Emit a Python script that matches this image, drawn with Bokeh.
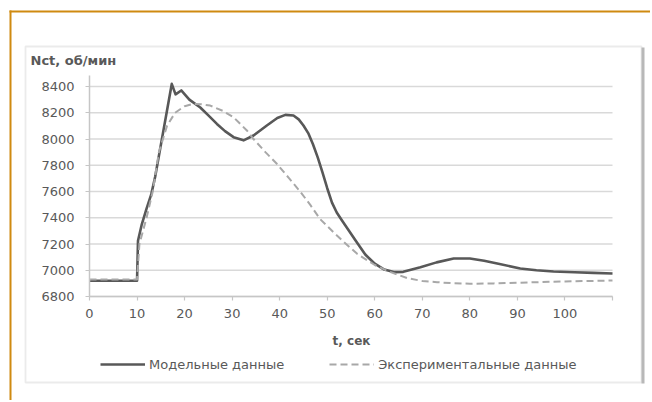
from bokeh.plotting import figure
from bokeh.models import (Range1d, FixedTicker, BoxAnnotation, Label, Legend, LegendItem)
from bokeh.embed import file_html
from bokeh.resources import INLINE

# ---- data ----
t_model = [0, 10, 10.2, 11, 12, 13, 13.8, 17.3, 18.1, 19.3, 21, 23.3, 25, 26.8, 28.5, 30.3, 32.4,
           34.5, 37.3, 39.5, 41.2, 42.9, 44, 45, 46, 47, 48, 49, 50, 51, 52, 53, 54.5, 56, 58, 60,
           62, 64, 66, 69.6, 73, 76.6, 80, 83, 86, 90.6, 94, 97.6, 102, 106, 110]
n_model = [6920, 6920, 7225, 7350, 7470, 7580, 7710, 8420, 8340, 8370, 8300, 8240, 8180, 8115, 8060,
           8014, 7990, 8027, 8103, 8160, 8184, 8179, 8150, 8103, 8045, 7960, 7860, 7745, 7625, 7515,
           7440, 7385, 7305, 7225, 7120, 7050, 7005, 6986, 6988, 7023, 7060, 7089, 7090, 7072, 7050,
           7013, 7000, 6990, 6985, 6980, 6975]

t_exp = [0, 10, 10.5, 12, 13.3, 14.6, 16.3, 18, 20, 21.8, 23.5, 25.4, 28, 30.3, 33.1, 34.5, 37, 39.4,
         42, 44.3, 46.4, 48.5, 51.3, 53.5, 56.3, 60, 63, 66.8, 70, 73.1, 76, 80, 85, 90.6, 95, 100,
         105, 110]
n_exp = [6930, 6930, 7200, 7400, 7600, 7900, 8100, 8200, 8250, 8268, 8265, 8255, 8215, 8166, 8065,
         8000, 7900, 7811, 7700, 7600, 7500, 7390, 7290, 7215, 7125, 7040, 6990, 6940, 6918, 6909,
         6902, 6897, 6900, 6905, 6910, 6915, 6918, 6922]

x_ticks = [0, 10, 20, 30, 40, 50, 60, 70, 80, 90, 100, 110]
x_tick_labels = {110: ""}
y_ticks = [6800, 7000, 7200, 7400, 7600, 7800, 8000, 8200, 8400]

y_title = "Nct, об/мин"
x_title = "t, сек"
legend_labels = ["Модельные данные", "Экспериментальные данные"]

X_MIN, X_MAX, Y_MIN, Y_MAX = 0, 110, 6800, 8484

# ---- page-pixel helpers (page px -> data coordinates) ----
O = 0                                       # observed page offset of the figure
FL, FR, FT, FB = 89, 612, 75, 296          # data area on the page
def dx(px):
    return X_MIN + (px - FL) * (X_MAX - X_MIN) / (FR - FL)
def dy(py):
    return Y_MIN + (FB - py) * (Y_MAX - Y_MIN) / (FB - FT)

W, H = 650, 400
p = figure(width=W, height=H, output_backend="svg", toolbar_location=None,
           x_range=Range1d(dx(O), dx(O + W)), y_range=Range1d(dy(O + H), dy(O)),
           min_border=0)
p.outline_line_color = None
p.background_fill_color = "white"
p.border_fill_color = "white"
p.grid.visible = False

FONT = "DejaVu Sans"
TXT = "#595959"

# orange frame and chart box
p.add_layout(BoxAnnotation(left=dx(25), right=dx(641), top=dy(46), bottom=dy(382),
                           fill_color="white", fill_alpha=1, line_color="#bdbdbd", line_width=1.8,
                           level="underlay"))
p.add_layout(BoxAnnotation(left=dx(641), right=dx(644), top=dy(47), bottom=dy(383),
                           fill_color="#b8b8b8", fill_alpha=1, line_alpha=0, level="underlay"))
p.add_layout(BoxAnnotation(left=dx(9), right=dx(670), top=dy(10), bottom=dy(12),
                           fill_color="#cf8a10", fill_alpha=1, line_alpha=0, level="underlay"))
p.add_layout(BoxAnnotation(left=dx(9), right=dx(11), top=dy(10), bottom=dy(420),
                           fill_color="#cf8a10", fill_alpha=1, line_alpha=0, level="underlay"))

# horizontal grid lines across the axis extent
p.segment(x0=[X_MIN] * len(y_ticks), x1=[X_MAX] * len(y_ticks), y0=y_ticks, y1=y_ticks,
          line_color="#d9d9d9", line_width=1.5)

for ax in (p.xaxis, p.yaxis):
    ax.axis_line_color = "#c6c6c6"
    ax.axis_line_width = 1.5
    ax.major_tick_line_color = "#c6c6c6"
    ax.major_tick_line_width = 1.2
    ax.minor_tick_line_color = None
    ax.major_tick_in = 0
    ax.major_tick_out = 4
    ax.major_label_text_font = FONT
    ax.major_label_text_font_size = "13px"
    ax.major_label_text_color = TXT

p.xaxis.fixed_location = Y_MIN
p.xaxis.bounds = (X_MIN, X_MAX)
p.xaxis.ticker = FixedTicker(ticks=x_ticks)
p.xaxis.major_label_overrides = x_tick_labels
p.xaxis.major_label_standoff = 8
p.yaxis.fixed_location = X_MIN
p.yaxis.bounds = (Y_MIN, Y_MAX)
p.yaxis.ticker = FixedTicker(ticks=y_ticks)
p.yaxis.major_label_standoff = 11

r1 = p.line(t_model, n_model, line_color="#585858", line_width=2.6, line_join="round")
r2 = p.line(t_exp, n_exp, line_color="#a8a8a8", line_width=2.0, line_dash="7 4",
            line_join="round")

p.add_layout(Label(x=dx(30), y=dy(60), text=y_title, text_font=FONT, text_font_size="13px",
                   text_font_style="bold", text_color=TXT, text_baseline="middle"))
p.add_layout(Label(x=dx(351), y=dy(340), text=x_title, text_font=FONT, text_font_size="12px",
                   text_font_style="bold", text_color=TXT, text_baseline="middle",
                   text_align="center"))

legend = Legend(items=[LegendItem(label=legend_labels[0], renderers=[r1]),
                       LegendItem(label=legend_labels[1], renderers=[r2])],
                orientation="horizontal", location=(100 - O, (O + H) - 374),
                padding=0, margin=0, spacing=45, glyph_width=45, label_standoff=4,
                glyph_height=20, label_height=20,
                label_text_font=FONT, label_text_font_size="13px", label_text_color=TXT,
                border_line_alpha=0, background_fill_alpha=0)
p.add_layout(legend, "center")

open("out.html", "w").write(file_html(p, INLINE))
